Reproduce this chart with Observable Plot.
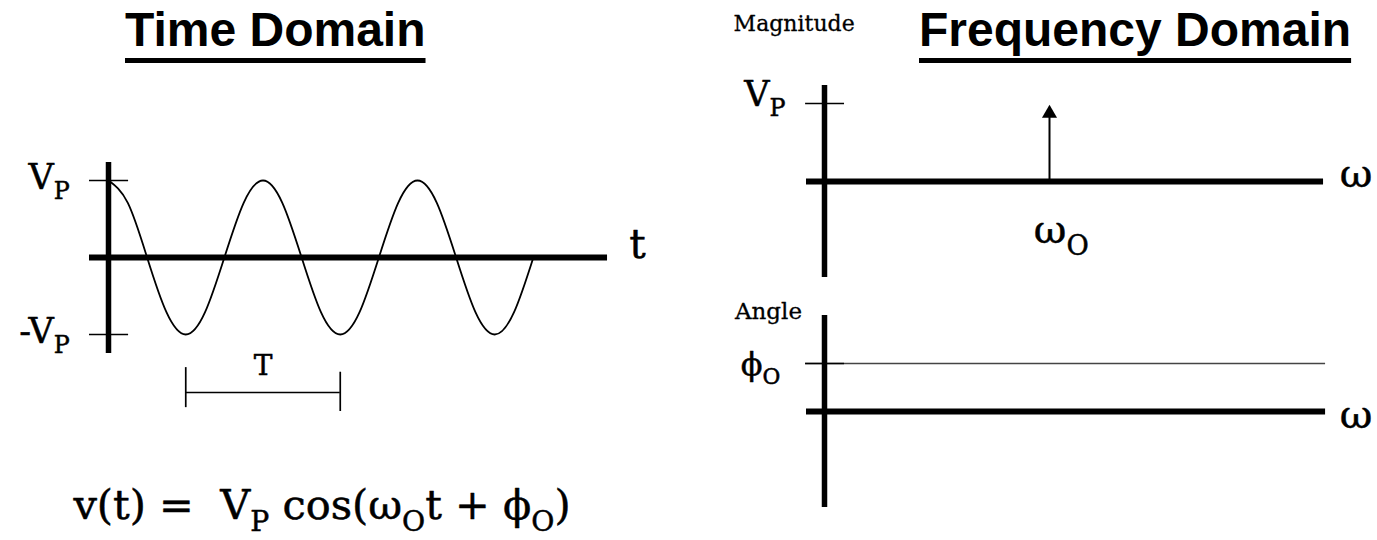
<!DOCTYPE html>
<html>
<head>
<meta charset="utf-8">
<script src="https://cdn.jsdelivr.net/npm/d3@7"></script>
<script src="https://cdn.jsdelivr.net/npm/@observablehq/plot@0.6"></script>
<style>
  html, body { margin: 0; padding: 0; background: #fff; }
  #root { position: relative; width: 1377px; height: 540px; overflow: hidden; background: #fff; }
  .panel { position: absolute; }
  .title {
    position: absolute; margin: 0;
    font-family: "Liberation Sans", Arial, sans-serif; font-weight: bold;
    font-size: 48px; line-height: 48px; color: #000; white-space: nowrap;
    text-decoration: underline; text-decoration-thickness: 5px; text-underline-offset: 12px;
    text-decoration-skip-ink: none;
  }
  svg text { white-space: pre; }
</style>
</head>
<body>
<div id="root"></div>
<script>
// ---------------- DATA ----------------
const titles = ["Time Domain", "Frequency Domain"];

// time-domain waveform (t in periods T, v in units of Vp)
const waveT = [0, 0.125, 0.25, 0.375, 0.5, 0.625, 0.75, 0.875,
               1, 1.125, 1.25, 1.375, 1.5, 1.625, 1.75, 1.875,
               2, 2.125, 2.25, 2.375, 2.5, 2.625, 2.75];
const waveV = [1, 0.71, 0, -0.71, -1, -0.71, 0, 0.71,
               1, 0.71, 0, -0.71, -1, -0.71, 0, 0.71,
               1, 0.71, 0, -0.71, -1, -0.71, 0];
const timeTickLevels = [1, -1];
const timeTickLabels = ["V_{P}", "-V_{P}"];
const periodSpan = [0.5, 1.5];          // bracket marking one period T
const periodLabel = "T";
const timeAxisLabel = "t";
const formula = "v(t) =  V_{P} cos(ω_{O}t + ϕ_{O})";

// frequency domain
const impulseW = [1];                   // ω_O
const impulseMag = [1];                 // Vp
const magTickLevels = [1];
const magTickLabels = ["V_{P}"];
const magTitle = "Magnitude";
const freqAxisLabel = "ω";
const impulseLabel = "ω_{O}";
const phaseLevel = [1];                 // φ_O
const phaseLabels = ["ϕ_{O}"];
const angleTitle = "Angle";

// ---------------- LAYOUT / STYLE ----------------
const SERIF = "'DejaVu Serif', 'Liberation Serif', serif";
const root = document.getElementById("root");

function subscriptify(svg) {
  svg.querySelectorAll("text").forEach(t => {
    const s = t.textContent;
    t.setAttributeNS("http://www.w3.org/XML/1998/namespace", "xml:space", "preserve");
    if (!s.includes("_{")) return;
    const parts = s.split(/_\{([^}]*)\}/);
    t.textContent = "";
    const r = 0.68, sh = 0.3;
    let afterSub = false;
    parts.forEach((p, i) => {
      const ts = document.createElementNS("http://www.w3.org/2000/svg", "tspan");
      if (i % 2 === 1) {
        ts.setAttribute("font-size", (r * 100) + "%");
        ts.setAttribute("dy", (sh / r) + "em");
        ts.textContent = p;
        t.appendChild(ts);
        afterSub = true;
      } else {
        if (p === "") return;
        if (afterSub) ts.setAttribute("dy", (-sh) + "em");
        ts.textContent = p;
        t.appendChild(ts);
        afterSub = false;
      }
    });
  });
}

function place(svg, left, top, w, h) {
  const d = document.createElement("div");
  d.className = "panel";
  d.style.left = left + "px"; d.style.top = top + "px";
  d.style.width = w + "px"; d.style.height = h + "px";
  subscriptify(svg);
  d.appendChild(svg);
  root.appendChild(d);
}

const common = {margin: 0, style: {background: "transparent", overflow: "visible"}};
const ink = "#000";
const txt = {fontFamily: SERIF, fill: ink, stroke: ink, strokeWidth: 0.5};

// ---- Time domain panel ----
const wave = waveT.map((t, i) => ({t, v: waveV[i]}));
const timePlot = Plot.plot({
  ...common, width: 690, height: 540,
  x: {domain: [0, 1], range: [108, 262.5], axis: null},
  y: {domain: [-1, 1], range: [334, 180], axis: null},
  marks: [
    Plot.line(wave, {x: "t", y: "v", curve: "natural", stroke: ink, strokeWidth: 1.8}),
    Plot.ruleY([0], {x1: -0.123, x2: 3.23, stroke: ink, strokeWidth: 6}),
    Plot.ruleX([0], {y1: -1.247, y2: 1.234, stroke: ink, strokeWidth: 5.5}),
    Plot.ruleY(timeTickLevels, {x1: -0.123, x2: 0.13, stroke: ink, strokeWidth: 1.7}),
    Plot.text(timeTickLevels, {x: -0.25, y: d => d, text: (d, i) => timeTickLabels[i],
      textAnchor: "end", lineAnchor: "bottom", dy: 8, fontSize: 35, ...txt}),
    // period bracket
    Plot.ruleY([-1.753], {x1: periodSpan[0], x2: periodSpan[1], stroke: ink, strokeWidth: 1.7}),
    Plot.ruleX([periodSpan[0]], {y1: -1.43, y2: -1.95, stroke: ink, strokeWidth: 1.7}),
    Plot.ruleX([periodSpan[1]], {y1: -1.49, y2: -2.0, stroke: ink, strokeWidth: 1.7}),
    Plot.text([periodLabel], {x: (periodSpan[0] + periodSpan[1]) / 2, y: -1.753, dy: -17,
      lineAnchor: "bottom", fontSize: 28, ...txt}),
    Plot.text([timeAxisLabel], {x: 3.37, y: 0, textAnchor: "start", lineAnchor: "bottom",
      fontSize: 41, ...txt}),
    Plot.text([formula], {x: -0.227, y: -3.39, textAnchor: "start", lineAnchor: "bottom",
      fontSize: 41.5, ...txt})
  ]
});
place(timePlot, 0, 0, 690, 540);

// ---- Magnitude panel ----
const xFreq = {domain: [0, 1], range: [134, 359], axis: null};
const impulses = impulseW.map((w, i) => ({w, m: impulseMag[i]}));
const magPlot = Plot.plot({
  ...common, width: 687, height: 290,
  x: xFreq,
  y: {domain: [0, 1], range: [181, 103], axis: null},
  marks: [
    Plot.ruleY([0], {x1: -0.08, x2: 2.218, stroke: ink, strokeWidth: 6}),
    Plot.ruleX([0], {y1: -1.231, y2: 1.231, stroke: ink, strokeWidth: 5.5}),
    Plot.ruleY(magTickLevels, {x1: -0.084, x2: 0.089, stroke: ink, strokeWidth: 1.7}),
    Plot.ruleX(impulses, {x: "w", y1: 0, y2: d => d.m * 0.85, stroke: ink, strokeWidth: 2}),
    Plot.dot(impulses, {x: "w", y: "m", symbol: "triangle", r: 5.6, fill: ink, stroke: "none", dy: 10}),
    Plot.text(magTickLevels, {x: -0.173, y: d => d, text: (d, i) => magTickLabels[i],
      textAnchor: "end", lineAnchor: "bottom", dy: 2, fontSize: 35, ...txt}),
    Plot.text([magTitle], {x: -0.135, y: 1.93, lineAnchor: "bottom", fontSize: 22, ...txt, strokeWidth: 0.3}),
    Plot.text([freqAxisLabel], {x: 2.29, y: 0, dy: 5, textAnchor: "start", lineAnchor: "bottom",
      fontSize: 40, ...txt}),
    Plot.text(impulses, {x: d => d.w - 0.07, y: 0, dy: 61, text: () => impulseLabel, textAnchor: "start",
      lineAnchor: "bottom", fontSize: 40, ...txt})
  ]
});
place(magPlot, 690, 0, 687, 290);

// ---- Angle panel ----
const anglePlot = Plot.plot({
  ...common, width: 687, height: 250,
  x: xFreq,
  y: {domain: [0, 1], range: [121, 73], axis: null},
  marks: [
    Plot.ruleY(phaseLevel, {x1: -0.084, x2: 2.227, stroke: "#444", strokeWidth: 1.6}),
    Plot.ruleY(phaseLevel, {x1: -0.084, x2: 0.089, stroke: ink, strokeWidth: 1.7}),
    Plot.ruleY([0], {x1: -0.08, x2: 2.227, stroke: ink, strokeWidth: 6}),
    Plot.ruleX([0], {y1: -2.0, y2: 2.0, stroke: ink, strokeWidth: 5.5}),
    Plot.text([angleTitle], {x: -0.249, y: 1.917, lineAnchor: "bottom", fontSize: 23, ...txt, strokeWidth: 0.3}),
    Plot.text(phaseLevel, {x: -0.196, y: d => d, dy: 11, text: (d, i) => phaseLabels[i],
      textAnchor: "end", lineAnchor: "bottom", fontSize: 32, ...txt}),
    Plot.text([freqAxisLabel], {x: 2.29, y: 0, dy: 16, textAnchor: "start", lineAnchor: "bottom",
      fontSize: 40, ...txt})
  ]
});
place(anglePlot, 690, 290, 687, 250);

// ---- Titles ----
[[titles[0], 125], [titles[1], 919]].forEach(([label, left]) => {
  const h = document.createElement("div");
  h.className = "title";
  h.textContent = label;
  h.style.left = left + "px";
  h.style.top = "6px";
  root.appendChild(h);
});
</script>
</body>
</html>
